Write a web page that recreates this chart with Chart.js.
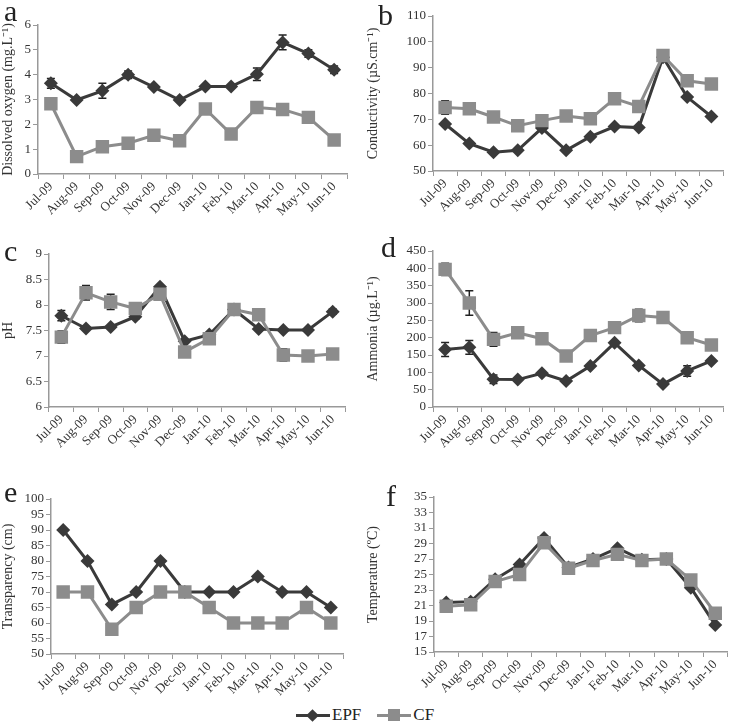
<!DOCTYPE html>
<html>
<head>
<meta charset="utf-8">
<script src="https://cdn.jsdelivr.net/npm/chart.js@4"></script>
<style>
body { margin: 0; background: #fff; width: 733px; height: 726px; overflow: hidden; position: relative; font-family: "Liberation Serif", serif; }
.panel { position: absolute; }
.letra { position: absolute; font-size: 30px; color: #222; line-height: 1; }
.leyenda { position: absolute; top: 704px; left: 296px; height: 22px; font-size: 17px; color: #222; display: flex; align-items: center; }
.item { display: flex; align-items: center; margin-right: 16px; }
.linea { position: relative; width: 34px; height: 3px; margin-right: 2px; }
.marca { position: absolute; }
</style>
</head>
<body>
<canvas id="g-a" class="panel"></canvas>
<canvas id="g-b" class="panel"></canvas>
<canvas id="g-c" class="panel"></canvas>
<canvas id="g-d" class="panel"></canvas>
<canvas id="g-e" class="panel"></canvas>
<canvas id="g-f" class="panel"></canvas>
<div class="letra" style="left:4px;top:-4px">a</div>
<div class="letra" style="left:378px;top:0px">b</div>
<div class="letra" style="left:4px;top:236px">c</div>
<div class="letra" style="left:381px;top:232px">d</div>
<div class="letra" style="left:4px;top:477px">e</div>
<div class="letra" style="left:386px;top:481px">f</div>
<div class="leyenda">
  <div class="item"><div class="linea" style="background:#3a3a3a"><div class="marca" style="width:9px;height:9px;background:#3a3a3a;transform:rotate(45deg);left:12px;top:-3px"></div></div><span>EPF</span></div>
  <div class="item"><div class="linea" style="background:#8c8c8c"><div class="marca" style="width:12px;height:12px;background:#8c8c8c;left:11px;top:-4.5px"></div></div><span>CF</span></div>
</div>
<script>
var MESES = ["Jul-09", "Aug-09", "Sep-09", "Oct-09", "Nov-09", "Dec-09", "Jan-10", "Feb-10", "Mar-10", "Apr-10", "May-10", "Jun-10"];

// a - oxigeno disuelto
var oxEPF = [3.65, 2.98, 3.35, 4.0, 3.5, 2.98, 3.52, 3.52, 4.02, 5.3, 4.85, 4.2];
var oxEPFerr = [0.2, 0, 0.3, 0.15, 0, 0, 0, 0, 0.25, 0.3, 0.15, 0.15];
var oxCF = [2.83, 0.7, 1.1, 1.24, 1.56, 1.34, 2.62, 1.61, 2.68, 2.6, 2.28, 1.37];
var oxCFerr = [0.15, 0, 0, 0, 0, 0, 0, 0, 0, 0, 0.1, 0];

// b - conductividad
var condEPF = [68.2, 60.6, 57.3, 58.0, 66.6, 58.0, 63.3, 67.2, 66.8, 94.0, 78.6, 71.1];
var condCF = [74.6, 74.1, 70.9, 67.5, 69.5, 71.3, 70.2, 78.0, 75.0, 94.7, 84.9, 83.7];
var condCFerr = [2.6, 0, 0, 0, 0, 0, 0, 0, 0, 0, 0, 0];

// c - pH
var phEPF = [7.79, 7.54, 7.57, 7.77, 8.36, 7.29, 7.42, 7.91, 7.53, 7.51, 7.51, 7.87];
var phEPFerr = [0.1, 0, 0, 0.05, 0, 0, 0, 0, 0, 0, 0, 0.05];
var phCF = [7.37, 8.24, 8.06, 7.93, 8.21, 7.08, 7.34, 7.91, 7.81, 7.02, 7.0, 7.04];
var phCFerr = [0.12, 0.14, 0.15, 0, 0, 0, 0, 0, 0, 0.12, 0.1, 0.06];

// d - amonio
var amEPF = [166, 172, 80, 79, 97, 75, 118, 185, 120, 66, 104, 133];
var amEPFerr = [20, 20, 12, 0, 0, 0, 0, 0, 0, 0, 15, 0];
var amCF = [397, 300, 195, 214, 197, 147, 206, 229, 264, 258, 200, 179];
var amCFerr = [18, 35, 20, 0, 0, 0, 0, 0, 18, 10, 0, 12];

// e - transparencia
var trEPF = [90, 80, 66, 70, 80, 70, 70, 70, 75, 70, 70, 65];
var trCF = [70, 70, 58, 65, 70, 70, 65, 60, 60, 60, 65, 60];

// f - temperatura
var tempEPF = [21.4, 21.5, 24.4, 26.3, 29.7, 25.9, 27.0, 28.4, 26.9, 27.0, 23.3, 18.5];
var tempCF = [20.9, 21.1, 24.1, 25.0, 29.1, 25.8, 26.8, 27.6, 26.8, 27.0, 24.3, 20.0];

var barrasError = {
    id: "barrasError",
    beforeDatasetsDraw: function (chart) {
        var ctx = chart.ctx;
        var ey = chart.scales.y;
        chart.data.datasets.forEach(function (ds, i) {
            if (!ds.errores) return;
            var meta = chart.getDatasetMeta(i);
            meta.data.forEach(function (pt, j) {
                var e = ds.errores[j];
                if (!e) return;
                var arriba = ey.getPixelForValue(ds.data[j] + e);
                var abajo = ey.getPixelForValue(ds.data[j] - e);
                ctx.save();
                ctx.strokeStyle = "#222";
                ctx.lineWidth = 1.5;
                ctx.beginPath();
                ctx.moveTo(pt.x, arriba); ctx.lineTo(pt.x, abajo);
                ctx.moveTo(pt.x - 4, arriba); ctx.lineTo(pt.x + 4, arriba);
                ctx.moveTo(pt.x - 4, abajo); ctx.lineTo(pt.x + 4, abajo);
                ctx.stroke();
                ctx.restore();
            });
        });
    }
};

function graficar(id, pos, datosEPF, errEPF, datosCF, errCF, eje) {
    var canvas = document.getElementById(id);
    canvas.style.left = pos.left + "px";
    canvas.style.top = pos.top + "px";
    canvas.style.width = pos.w + "px";
    canvas.style.height = pos.h + "px";
    canvas.width = pos.w;
    canvas.height = pos.h;
    var fuente = { family: "'Liberation Serif', serif", size: 13 };
    new Chart(canvas.getContext("2d"), {
        type: "line",
        data: {
            labels: MESES,
            datasets: [
                {
                    label: "CF",
                    data: datosCF,
                    errores: errCF,
                    borderColor: "#8c8c8c",
                    backgroundColor: "#8c8c8c",
                    borderWidth: 3,
                    pointStyle: "rect",
                    pointRadius: 9.5,
                    pointBorderWidth: 0,
                    order: 0
                },
                {
                    label: "EPF",
                    data: datosEPF,
                    errores: errEPF,
                    borderColor: "#3a3a3a",
                    backgroundColor: "#3a3a3a",
                    borderWidth: 3,
                    pointStyle: "rectRot",
                    pointRadius: 7,
                    pointBorderWidth: 0,
                    order: 1
                }
            ]
        },
        options: {
            responsive: false,
            animation: false,
            layout: { padding: { top: pos.top_pad, right: pos.right_pad, left: 0, bottom: 0 } },
            plugins: { legend: { display: false }, tooltip: { enabled: false } },
            scales: {
                x: {
                    offset: true,
                    afterFit: function (s) { s.height = pos.xh; },
                    grid: { display: true, offset: true, drawOnChartArea: false, tickLength: 5, color: "#999" },
                    border: { color: "#999", width: 1.5 },
                    ticks: { color: "#333", font: fuente, minRotation: 45, maxRotation: 45, padding: 0, autoSkip: false }
                },
                y: {
                    min: eje.min,
                    max: eje.max,
                    afterFit: function (s) { s.width = pos.yw; },
                    grid: { display: true, drawOnChartArea: false, tickLength: 5, color: "#999" },
                    border: { color: "#999", width: 1.5 },
                    ticks: {
                        color: "#333", font: fuente, stepSize: eje.paso, padding: 2, autoSkip: false,
                        callback: function (v) { return String(Math.round(v * 10) / 10); }
                    },
                    title: { display: true, text: eje.titulo, color: "#333", font: { family: "'Liberation Serif', serif", size: 14 }, padding: 0 }
                }
            }
        },
        plugins: [barrasError]
    });
}

graficar("g-a", { left: 0, top: 0, w: 362, h: 235, yw: 38, xh: 61, top_pad: 25, right_pad: 15 },
    oxEPF, oxEPFerr, oxCF, oxCFerr, { min: 0, max: 6, paso: 1, titulo: "Dissolved oxygen (mg.L⁻¹)" });
graficar("g-b", { left: 365, top: 0, w: 368, h: 235, yw: 68, xh: 64, top_pad: 16, right_pad: 8 },
    condEPF, null, condCF, condCFerr, { min: 50, max: 110, paso: 10, titulo: "Conductivity (µS.cm⁻¹)" });
graficar("g-c", { left: 0, top: 235, w: 362, h: 225, yw: 49, xh: 53, top_pad: 19, right_pad: 17 },
    phEPF, phEPFerr, phCF, phCFerr, { min: 6, max: 9, paso: 0.5, titulo: "pH" });
graficar("g-d", { left: 365, top: 235, w: 368, h: 225, yw: 68, xh: 53, top_pad: 16, right_pad: 8 },
    amEPF, amEPFerr, amCF, amCFerr, { min: 0, max: 450, paso: 50, titulo: "Ammonia (µg.L⁻¹)" });
graficar("g-e", { left: 0, top: 455, w: 362, h: 245, yw: 51, xh: 46, top_pad: 44, right_pad: 19 },
    trEPF, null, trCF, null, { min: 50, max: 100, paso: 5, titulo: "Transparency (cm)" });
graficar("g-f", { left: 365, top: 455, w: 372, h: 245, yw: 69, xh: 48, top_pad: 42, right_pad: 1 },
    tempEPF, null, tempCF, null, { min: 15, max: 35, paso: 2, titulo: "Temperature (ºC)" });
</script>
</body>
</html>
